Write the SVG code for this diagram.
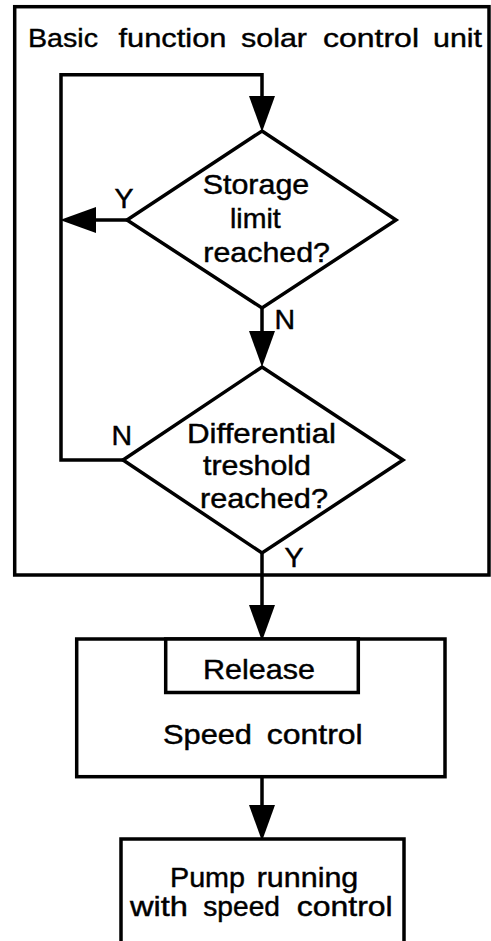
<svg xmlns="http://www.w3.org/2000/svg" width="491" height="941" viewBox="0 0 491 941">
<style>
.box{fill:#fff;stroke:#000;stroke-width:3.5}
.dia{fill:#fff;stroke:#000;stroke-width:3.5;stroke-linejoin:miter}
.con{fill:none;stroke:#000;stroke-width:3.5}
.t{font-family:"Liberation Sans",Arial,sans-serif;font-size:28.5px;fill:#000;stroke:#000;stroke-width:0.45}
.tt{font-family:"Liberation Sans",Arial,sans-serif;font-size:26px;fill:#000;stroke:#000;stroke-width:0.4}
</style>
<defs>
<marker id="ah" markerUnits="userSpaceOnUse" markerWidth="36" markerHeight="26" refX="0" refY="13" orient="auto">
<path d="M0,0 L36,13 L0,26 z" fill="#000"/>
</marker>
</defs>
<rect width="491" height="941" fill="#fff"/>

<g id="unit">
<rect class="box" x="14.7" y="6.7" width="474.3" height="568.3"/>
<text class="tt" y="46.7">
<tspan x="28" textLength="70" lengthAdjust="spacingAndGlyphs">Basic</tspan>
<tspan x="118.5" textLength="108" lengthAdjust="spacingAndGlyphs">function</tspan>
<tspan x="241" textLength="66" lengthAdjust="spacingAndGlyphs">solar</tspan>
<tspan x="323" textLength="96" lengthAdjust="spacingAndGlyphs">control</tspan>
<tspan x="433" textLength="49" lengthAdjust="spacingAndGlyphs">unit</tspan>
</text>
</g>

<g id="connectors">
<path class="con" d="M123,460 H61 V74.7 H262 V96" marker-end="url(#ah)"/>
<path class="con" d="M127,220 H96" marker-end="url(#ah)"/>
<path class="con" d="M262,308 V331" marker-end="url(#ah)"/>
<path class="con" d="M262,553 V605" marker-end="url(#ah)"/>
<path class="con" d="M262,777 V805" marker-end="url(#ah)"/>
</g>

<g id="storage">
<polygon class="dia" points="262,131 396,220 262,308 127,220"/>
<text class="t" x="202.7" y="194.3" textLength="106.6" lengthAdjust="spacingAndGlyphs">Storage</text>
<text class="t" x="230" y="228.3" textLength="50.7" lengthAdjust="spacingAndGlyphs">limit</text>
<text class="t" x="203.3" y="261.7" textLength="126.7" lengthAdjust="spacingAndGlyphs">reached?</text>
</g>

<g id="differential">
<polygon class="dia" points="262,367 403,460 262,553 123,460"/>
<text class="t" x="187" y="442.5" textLength="149" lengthAdjust="spacingAndGlyphs">Differential</text>
<text class="t" x="203" y="475" textLength="108" lengthAdjust="spacingAndGlyphs">treshold</text>
<text class="t" x="200" y="507.5" textLength="128" lengthAdjust="spacingAndGlyphs">reached?</text>
</g>

<g id="labels">
<text class="t" x="114.5" y="208">Y</text>
<text class="t" x="274.5" y="329">N</text>
<text class="t" x="111.5" y="445">N</text>
<text class="t" x="284.5" y="567">Y</text>
</g>

<g id="speed">
<rect class="box" x="76.7" y="639" width="368.3" height="137.7"/>
<text class="t" y="744">
<tspan x="163" textLength="89" lengthAdjust="spacingAndGlyphs">Speed</tspan>
<tspan x="266.7" textLength="96" lengthAdjust="spacingAndGlyphs">control</tspan>
</text>
</g>

<g id="release">
<rect class="box" x="165.7" y="639" width="192.6" height="53.5"/>
<text class="t" x="203" y="679" textLength="112" lengthAdjust="spacingAndGlyphs">Release</text>
</g>

<g id="pump">
<rect class="box" x="121" y="839" width="283" height="130"/>
<text class="t" y="886.7">
<tspan x="170" textLength="75" lengthAdjust="spacingAndGlyphs">Pump</tspan>
<tspan x="256.7" textLength="101.6" lengthAdjust="spacingAndGlyphs">running</tspan>
</text>
<text class="t" y="916">
<tspan x="130" textLength="58" lengthAdjust="spacingAndGlyphs">with</tspan>
<tspan x="203.3" textLength="76.7" lengthAdjust="spacingAndGlyphs">speed</tspan>
<tspan x="296.7" textLength="96" lengthAdjust="spacingAndGlyphs">control</tspan>
</text>
</g>
</svg>
